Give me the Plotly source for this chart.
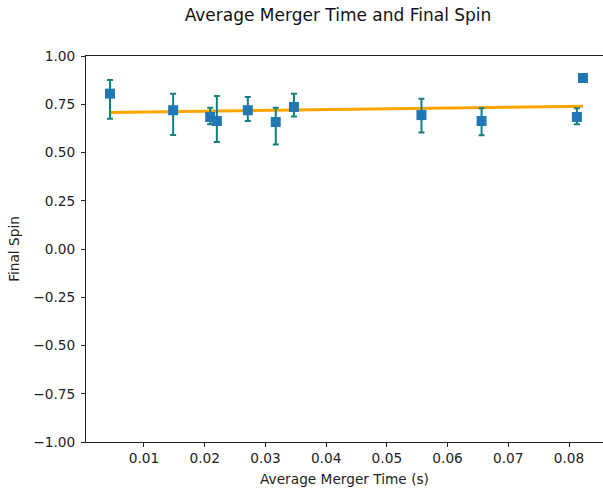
import plotly.graph_objects as go

merger_time = [0.0044, 0.0148, 0.0209, 0.0220, 0.0271, 0.0317, 0.0347, 0.0557, 0.0656, 0.0813, 0.0823]
final_spin = [0.805, 0.719, 0.684, 0.663, 0.719, 0.658, 0.736, 0.694, 0.663, 0.684, 0.886]
err_plus = [0.071, 0.086, 0.048, 0.130, 0.069, 0.074, 0.069, 0.085, 0.066, 0.045, 0.0]
err_minus = [0.130, 0.128, 0.038, 0.109, 0.056, 0.116, 0.050, 0.091, 0.074, 0.038, 0.0]
fit_x = [0.0044, 0.0823]
fit_y = [0.707, 0.740]

fig = go.Figure()
fig.add_trace(go.Scatter(
    x=fit_x, y=fit_y, mode="lines",
    line=dict(color="#FFA500", width=3), showlegend=False, hoverinfo="skip"))
fig.add_trace(go.Scatter(
    x=merger_time, y=final_spin, mode="markers",
    marker=dict(symbol="square", color="#1f77b4", size=10),
    error_y=dict(type="data", symmetric=False, array=err_plus, arrayminus=err_minus,
                 color="#108080", thickness=2, width=3),
    showlegend=False))

W, H = 603, 492
fs = 13.7
axis_font = dict(family="DejaVu Sans", size=fs, color="#222")
fig.update_layout(
    width=W, height=H,
    margin=dict(l=86, r=0, t=55.5, b=50, pad=0),
    paper_bgcolor="white", plot_bgcolor="white",
    font=axis_font,
    title=dict(text="Average Merger Time and Final Spin", x=338/W, xref="container",
               xanchor="center", y=1-14.6/H, yanchor="middle",
               font=dict(family="DejaVu Sans", size=17, color="#111")),
    xaxis=dict(range=[0.00045, 0.0856], tickvals=[0.01, 0.02, 0.03, 0.04, 0.05, 0.06, 0.07, 0.08],
               ticktext=["0.01", "0.02", "0.03", "0.04", "0.05", "0.06", "0.07", "0.08"],
               showgrid=False, zeroline=False, showline=True, linecolor="#222", linewidth=1,
               mirror=True, ticks="outside", ticklen=4, tickcolor="#222", tickfont=axis_font,
               title=dict(text="Average Merger Time (s)", standoff=8, font=axis_font)),
    yaxis=dict(range=[-1, 1], tickvals=[-1, -0.75, -0.5, -0.25, 0, 0.25, 0.5, 0.75, 1],
               ticktext=["\u22121.00", "\u22120.75", "\u22120.50", "\u22120.25", "0.00", "0.25", "0.50", "0.75", "1.00"],
               showgrid=False, zeroline=False, showline=True, linecolor="#222", linewidth=1,
               ticks="outside", ticklen=4, tickcolor="#222", tickfont=axis_font,
               ticklabelstandoff=3,
               title=dict(text="Final Spin", standoff=10, font=axis_font)),
)
fig.write_html("out.html", config={"displayModeBar": False},
               post_script="document.body.style.margin='0';")
